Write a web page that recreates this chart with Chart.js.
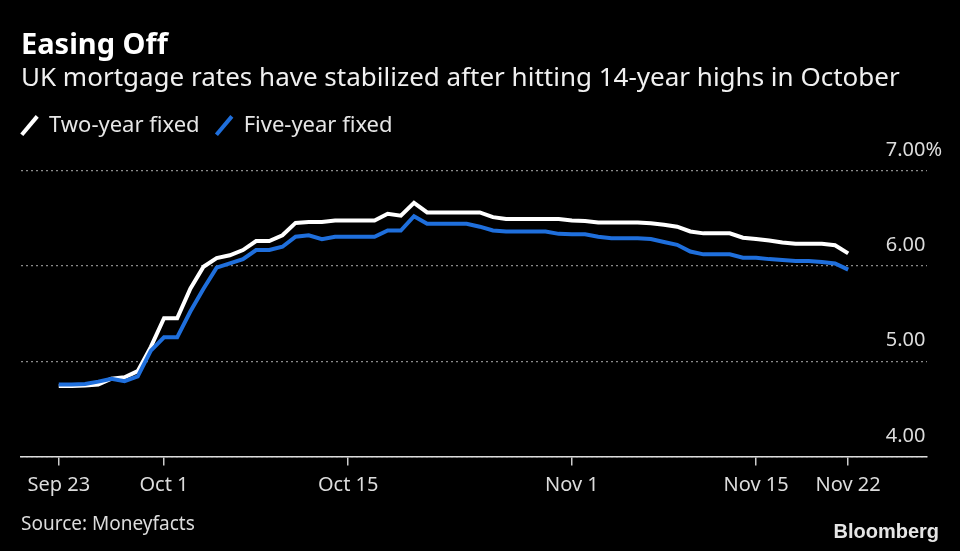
<!DOCTYPE html>
<html>
<head>
<meta charset="utf-8">
<script src="https://cdn.jsdelivr.net/npm/chart.js@4.4.1/dist/chart.umd.min.js"></script>
<style>
  html, body { margin: 0; padding: 0; background: #000; }
  #wrap { width: 960px; height: 551px; position: relative; }
</style>
</head>
<body>
<div id="wrap"><canvas id="rates"></canvas></div>
<script>
// day index 0 = Sep 23, 60 = Nov 22
var twoYear = [
  4.74, 4.74, 4.745, 4.755, 4.815, 4.83, 4.895, 5.15, 5.45, 5.45,
  5.76, 5.99, 6.08, 6.11, 6.165, 6.26, 6.26, 6.32, 6.45, 6.46,
  6.46, 6.475, 6.475, 6.475, 6.475, 6.545, 6.525, 6.66, 6.56, 6.56,
  6.56, 6.56, 6.56, 6.51, 6.49, 6.49, 6.49, 6.49, 6.49, 6.475,
  6.47, 6.455, 6.455, 6.455, 6.455, 6.445, 6.43, 6.41, 6.36, 6.34,
  6.34, 6.34, 6.295, 6.28, 6.265, 6.245, 6.23, 6.23, 6.23, 6.215,
  6.13
];
var fiveYear = [
  4.755, 4.755, 4.76, 4.785, 4.815, 4.79, 4.84, 5.11, 5.25, 5.25,
  5.52, 5.76, 5.98, 6.025, 6.07, 6.165, 6.165, 6.2, 6.305, 6.32,
  6.28, 6.305, 6.305, 6.305, 6.305, 6.37, 6.37, 6.52, 6.44, 6.44,
  6.44, 6.44, 6.41, 6.37, 6.36, 6.36, 6.36, 6.36, 6.335, 6.33,
  6.33, 6.305, 6.29, 6.29, 6.29, 6.28, 6.25, 6.22, 6.15, 6.12,
  6.12, 6.12, 6.085, 6.085, 6.07, 6.06, 6.05, 6.05, 6.04, 6.025,
  5.96
];
var tickDays = [0, 8, 22, 39, 53, 60];
var tickLabels = ["Sep 23", "Oct 1", "Oct 15", "Nov 1", "Nov 15", "Nov 22"];
var yTicks = [4, 5, 6, 7];
var yLabels = ["4.00", "5.00", "6.00", "7.00%"];

var font = '"Noto Sans", sans-serif';

function toPoints(values) {
  return values.map(function(v, i) {
    return { x: i, y: v };
  });
}

// footer texts (source + logo)
var footer = {
  id: "footer",
  afterDraw: function(chart) {
    var ctx = chart.ctx;
    ctx.save();
    ctx.textBaseline = "alphabetic";
    ctx.fillStyle = "#dcdcdc";
    ctx.font = "19px " + font;
    ctx.textAlign = "left";
    ctx.fillText("Source: Moneyfacts", 21, 530);
    ctx.fillStyle = "#e6e6e6";
    ctx.font = "bold 20px \"Liberation Sans\", sans-serif";
    ctx.textAlign = "right";
    ctx.fillText("Bloomberg", 939, 538);
    ctx.restore();
  }
};

// pull the legend back so the first marker lines up with the title
var legendShift = {
  id: "legendShift",
  afterLayout: function(chart) {
    var lg = chart.legend;
    lg.left -= lg.options.labels.padding;
  }
};

var ctx = document.getElementById("rates").getContext("2d");
var chart = new Chart(ctx, {
  type: "line",
  data: {
    datasets: [{
      label: "Two-year fixed",
      data: toPoints(twoYear),
      borderColor: "#ffffff",
      backgroundColor: "#ffffff",
      borderWidth: 4,
      pointRadius: 0,
      pointStyle: "line",
      pointRotation: -50,
      order: 1
    }, {
      label: "Five-year fixed",
      data: toPoints(fiveYear),
      borderColor: "#1f6fdc",
      backgroundColor: "#1f6fdc",
      borderWidth: 4,
      pointRadius: 0,
      pointStyle: "line",
      pointRotation: -50,
      order: 0
    }]
  },
  options: {
    responsive: true,
    maintainAspectRatio: false,
    animation: false,
    layout: {
      padding: { left: 21, right: 2.6, top: 0, bottom: 45.5 }
    },
    plugins: {
      title: {
        display: true,
        text: "Easing Off",
        align: "start",
        color: "#ffffff",
        font: { family: font, size: 29, weight: "bold" },
        padding: { top: 28.6, bottom: 0 }
      },
      subtitle: {
        display: true,
        text: "UK mortgage rates have stabilized after hitting 14-year highs in October",
        align: "start",
        color: "#f0f0f0",
        font: { family: font, size: 26 },
        padding: { top: 0, bottom: 4 }
      },
      legend: {
        position: "top",
        align: "start",
        labels: {
          usePointStyle: true,
          boxHeight: 17,
          boxWidth: 17,
          padding: 16,
          color: "#e6e6e6",
          font: { family: font, size: 22 },
          sort: function(a, b) { return a.datasetIndex - b.datasetIndex; }
        }
      },
      tooltip: { enabled: false }
    },
    scales: {
      x: {
        type: "linear",
        min: -2.87,
        max: 65.96,
        afterBuildTicks: function(scale) {
          scale.ticks = tickDays.map(function(v) { return { value: v }; });
        },
        ticks: {
          autoSkip: false,
          maxRotation: 0,
          padding: 8,
          color: "#dcdcdc",
          font: { family: font, size: 20 },
          callback: function(v) { return tickLabels[tickDays.indexOf(v)]; }
        },
        grid: {
          drawOnChartArea: false,
          drawTicks: true,
          tickLength: 9,
          tickColor: "#cccccc",
          lineWidth: 1.5
        },
        border: { color: "#dddddd", width: 1.5 }
      },
      y: {
        position: "right",
        min: 4,
        max: 7.25,
        afterBuildTicks: function(scale) {
          scale.ticks = yTicks.map(function(v) { return { value: v }; });
        },
        ticks: {
          mirror: true,
          crossAlign: "far",
          padding: 15.4,
          labelOffset: -20.5,
          color: "#dcdcdc",
          font: { family: font, size: 20 },
          callback: function(v) { return yLabels[yTicks.indexOf(v)]; }
        },
        grid: {
          color: "#8a8a8a",
          lineWidth: 1.2,
          drawTicks: false
        },
        border: { display: false, dash: [2, 3] }
      }
    }
  },
  plugins: [footer, legendShift]
});
</script>
</body>
</html>
